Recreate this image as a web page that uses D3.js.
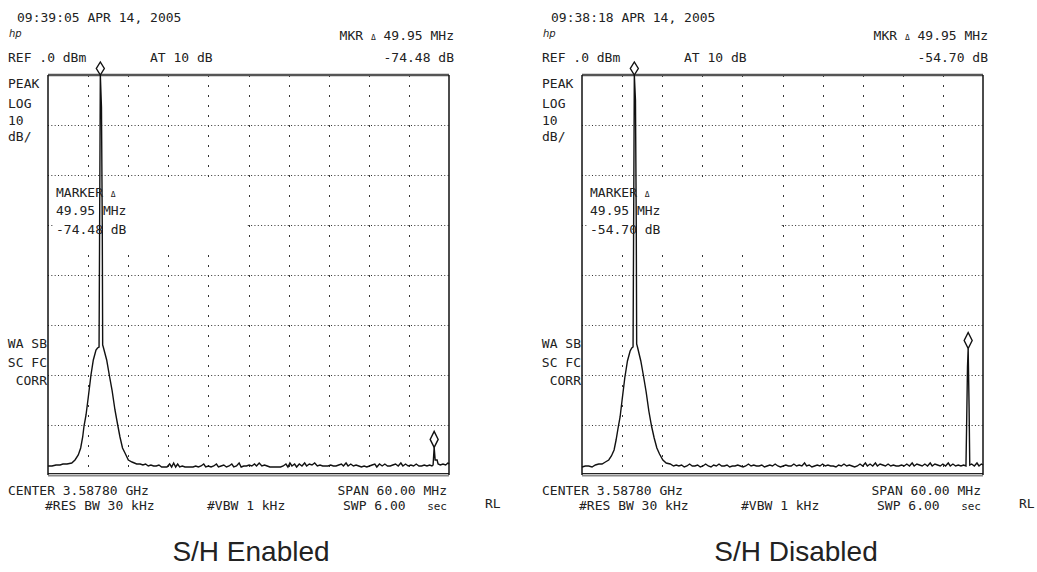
<!DOCTYPE html>
<html>
<head>
<meta charset="utf-8">
<script src="https://cdn.jsdelivr.net/npm/d3@7"></script>
<style>
  html, body { margin: 0; padding: 0; background: #fff; }
  svg { display: block; }
  .mono { font-family: "DejaVu Sans Mono", monospace; font-size: 13px; fill: #222; }
  .small { font-size: 11px; }
  .caption { font-family: "Liberation Sans", Arial, sans-serif; font-size: 28px; fill: #222; }
</style>
</head>
<body>
<svg id="chart" width="1037" height="572"></svg>
<script>
// Analyzer settings shared by both screens
const spanMHz = 60;
const refLevelDbm = 0;
const dbPerDiv = 10;
const verticalDivs = 8;
const horizontalDivs = 10;

// Reference marker on the carrier and the delta marker offset
const markerFreqMHz = -22.17;      // offset from center frequency
const markerLevelDbm = 0;
const deltaFreqMHz = 49.95;
const deltaLevelsDb = [-74.48, -54.70];

const panelCaptions = ["S/H Enabled", "S/H Disabled"];
const timeStamps = ["09:39:05 APR 14, 2005", "09:38:18 APR 14, 2005"];
const deltaTexts = ["-74.48 dB", "-54.70 dB"];
const leftAnnotations = ["PEAK", "LOG", "10", "dB/"];
const corrAnnotations = ["WA SB", "SC FC", "CORR"];
const footerLine1 = ["CENTER 3.58780 GHz", "SPAN 60.00 MHz"];
const footerLine2 = ["#RES BW 30 kHz", "#VBW 1 kHz", "SWP 6.00", "sec"];

// Trace: [MHz offset from center, dBm]
const traceEnabled = [
  [-30.00,-78.2],[-29.40,-78.2],[-28.80,-78.0],[-28.20,-78.0],[-27.76,-77.8],[-27.16,-77.8],
  [-26.45,-77.6],[-25.96,-77.0],[-25.47,-76.0],[-25.11,-74.6],[-24.81,-72.4],[-24.61,-70.2],
  [-24.31,-68.0],[-23.97,-64.4],[-23.57,-60.0],[-23.22,-57.0],[-22.82,-55.0],[-22.59,-54.6],
  [-22.36,-54.4],[markerFreqMHz, markerLevelDbm],[-22.00,-6.4],[-21.88,-30.0],[-21.82,-54.0],
  [-21.73,-54.4],[-21.22,-57.0],[-20.83,-60.0],[-20.42,-63.0],[-19.98,-67.0],[-19.57,-70.0],
  [-19.23,-72.4],[-18.85,-74.6],[-18.48,-75.6],[-17.98,-77.0],[-17.43,-77.4],[-16.73,-77.8],
  [-16.20,-77.8],[-15.80,-78.0],[-15.40,-77.8],[-15.00,-78.2],[-14.60,-78.0],[-14.20,-78.2],
  [-13.80,-78.2],[-13.40,-78.0],[-13.00,-78.4],[-12.60,-78.4],[-12.20,-78.4],[-11.80,-77.8],
  [-11.50,-78.4],[-11.20,-77.6],[-10.90,-78.4],[-10.60,-77.8],[-10.30,-78.4],[-9.90,-78.2],
  [-9.50,-78.4],[-9.10,-78.4],[-8.70,-78.4],[-8.30,-78.4],[-7.90,-78.2],[-7.50,-78.4],
  [-7.10,-78.2],[-6.70,-77.8],[-6.40,-78.4],[-6.00,-78.2],[-5.60,-78.4],[-5.20,-78.2],
  [-4.80,-77.8],[-4.50,-78.4],[-4.10,-78.2],[-3.70,-78.0],[-3.30,-78.4],[-2.90,-78.2],
  [-2.50,-77.8],[-2.20,-78.4],[-1.80,-78.2],[-1.40,-77.6],[-1.10,-78.4],[-0.70,-78.2],
  [-0.30,-78.2],[0.10,-78.0],[0.50,-78.2],[0.90,-77.8],[1.20,-78.2],[1.60,-77.6],
  [2.00,-78.2],[2.40,-78.0],[2.80,-78.2],[3.20,-78.4],[3.60,-78.4],[4.00,-78.4],
  [4.40,-78.4],[4.80,-78.4],[5.20,-78.2],[5.60,-77.8],[5.90,-78.4],[6.20,-77.6],
  [6.50,-78.2],[6.90,-77.8],[7.20,-78.4],[7.60,-77.8],[8.00,-78.2],[8.40,-77.6],
  [8.70,-78.2],[9.10,-77.8],[9.50,-78.0],[9.90,-77.6],[10.30,-78.2],[10.70,-78.0],
  [11.10,-78.2],[11.50,-78.2],[11.90,-78.2],[12.30,-78.0],[12.70,-78.2],[13.10,-78.2],
  [13.50,-78.0],[13.90,-77.8],[14.20,-78.2],[14.60,-77.6],[14.90,-78.2],[15.30,-77.8],
  [15.70,-78.2],[16.10,-78.0],[16.50,-78.2],[16.90,-78.4],[17.30,-78.2],[17.70,-78.4],
  [18.10,-78.2],[18.50,-78.0],[18.90,-77.8],[19.20,-78.4],[19.60,-77.8],[20.00,-78.2],
  [20.40,-77.8],[20.80,-78.2],[21.20,-78.2],[21.60,-78.0],[22.00,-77.8],[22.40,-78.2],
  [22.80,-77.6],[23.10,-78.2],[23.50,-77.8],[23.90,-78.2],[24.30,-78.0],[24.70,-78.2],
  [25.10,-77.8],[25.50,-78.2],[25.90,-78.2],[26.30,-78.0],[26.70,-78.2],[27.10,-78.0],
  [27.45,-78.2],[27.62,-78.0],[markerFreqMHz + deltaFreqMHz, markerLevelDbm + deltaLevelsDb[0]],
  [27.93,-77.0],[28.22,-77.0],[28.37,-77.8],[28.70,-78.0],[29.10,-77.8],[29.50,-78.0],
  [29.85,-77.6],[30.00,-77.8]
];

const traceDisabled = [
  [-30.00,-78.4],[-29.50,-78.2],[-29.00,-78.2],[-28.50,-78.4],[-28.00,-78.0],[-27.50,-77.8],
  [-27.00,-77.8],[-26.50,-77.4],[-26.00,-77.0],[-25.60,-76.2],[-25.20,-75.0],[-24.90,-73.0],
  [-24.60,-70.6],[-24.30,-68.4],[-24.00,-65.0],[-23.60,-60.6],[-23.20,-57.2],[-22.80,-55.2],
  [-22.55,-54.6],[-22.36,-54.4],[markerFreqMHz, markerLevelDbm],[-22.00,-5.0],[-21.88,-30.0],
  [-21.82,-53.8],[-21.70,-54.4],[-21.20,-57.2],[-20.80,-60.2],[-20.40,-63.4],[-20.00,-67.2],
  [-19.60,-70.2],[-19.20,-72.6],[-18.80,-74.6],[-18.40,-75.8],[-17.90,-77.0],[-17.40,-77.6],
  [-16.80,-77.8],[-16.30,-78.2],[-15.90,-78.0],[-15.50,-78.2],[-15.10,-78.0],[-14.70,-78.4],
  [-14.30,-78.2],[-13.90,-77.8],[-13.50,-78.2],[-13.10,-78.2],[-12.70,-78.0],[-12.30,-78.4],
  [-11.90,-78.2],[-11.50,-77.8],[-11.10,-78.2],[-10.70,-78.4],[-10.30,-78.0],[-9.90,-78.2],
  [-9.50,-77.8],[-9.10,-78.2],[-8.70,-78.2],[-8.30,-78.0],[-7.90,-78.4],[-7.50,-78.2],
  [-7.10,-78.2],[-6.70,-78.0],[-6.30,-78.2],[-5.90,-78.4],[-5.50,-78.2],[-5.10,-77.8],
  [-4.70,-78.2],[-4.30,-78.0],[-3.90,-78.2],[-3.50,-78.2],[-3.10,-78.0],[-2.70,-78.4],
  [-2.30,-78.2],[-1.90,-78.0],[-1.50,-78.2],[-1.10,-77.8],[-0.70,-78.2],[-0.30,-78.4],
  [0.10,-78.2],[0.50,-78.0],[0.90,-78.2],[1.30,-78.2],[1.70,-77.8],[2.10,-78.2],
  [2.50,-78.0],[2.90,-78.2],[3.30,-77.6],[3.60,-78.2],[4.00,-78.0],[4.40,-78.4],
  [4.80,-78.2],[5.20,-78.0],[5.60,-78.2],[6.00,-77.8],[6.40,-78.2],[6.80,-78.0],
  [7.20,-78.2],[7.60,-78.2],[8.00,-78.4],[8.40,-78.0],[8.80,-78.2],[9.20,-77.8],
  [9.60,-78.2],[10.00,-78.0],[10.40,-78.2],[10.80,-78.4],[11.20,-78.2],[11.60,-77.8],
  [12.00,-78.2],[12.40,-77.6],[12.70,-78.2],[13.10,-77.8],[13.50,-78.2],[13.90,-77.6],
  [14.20,-78.2],[14.60,-77.8],[15.00,-78.0],[15.40,-78.2],[15.80,-77.8],[16.20,-78.2],
  [16.60,-78.0],[17.00,-78.2],[17.40,-78.2],[17.80,-78.0],[18.20,-78.2],[18.60,-77.8],
  [19.00,-78.2],[19.40,-77.6],[19.70,-78.2],[20.10,-77.8],[20.50,-78.0],[20.90,-78.2],
  [21.30,-77.8],[21.70,-78.2],[22.10,-77.6],[22.40,-78.2],[22.80,-77.8],[23.20,-78.0],
  [23.60,-78.2],[24.00,-77.8],[24.40,-78.2],[24.80,-77.6],[25.10,-78.2],[25.50,-77.8],
  [25.90,-78.2],[26.30,-78.0],[26.70,-78.2],[27.10,-78.0],[27.45,-78.2],[27.55,-70.0],
  [27.68,-58.4],[markerFreqMHz + deltaFreqMHz, markerLevelDbm + deltaLevelsDb[1]],
  [27.92,-66.6],[28.02,-78.0],[28.30,-77.8],[28.70,-78.2],[29.10,-77.6],[29.40,-78.2],
  [29.75,-77.8],[30.00,-78.0]
];

const traces = [traceEnabled, traceDisabled];

// ---- layout ----
const panelOffsets = [0, 534];
const captionCenters = [251, 796];
const plot = { left: 48, right: 449, top: 75, bottom: 475 };

const svg = d3.select("#chart");

const x = d3.scaleLinear()
  .domain([-spanMHz / 2, spanMHz / 2])
  .range([plot.left, plot.right]);
const y = d3.scaleLinear()
  .domain([refLevelDbm - verticalDivs * dbPerDiv, refLevelDbm])
  .range([plot.bottom, plot.top]);

const line = d3.line().x(d => x(d[0])).y(d => y(d[1]));

function diamond(cx, by, w, h) {
  return `M${cx},${by} L${cx + w / 2},${by - h / 2} L${cx},${by - h} L${cx - w / 2},${by - h / 2} Z`;
}

function mono(g, text, px, py, anchor, cls) {
  return g.append("text")
    .attr("class", "mono" + (cls ? " " + cls : ""))
    .attr("x", px).attr("y", py)
    .attr("text-anchor", anchor || "start")
    .text(text);
}

traces.forEach((trace, i) => {
  const g = svg.append("g").attr("transform", `translate(${panelOffsets[i]},0)`);

  // graticule
  const vLines = d3.range(1, horizontalDivs).map(k => -spanMHz / 2 + k * spanMHz / horizontalDivs);
  const hLines = d3.range(1, verticalDivs).map(k => refLevelDbm - verticalDivs * dbPerDiv + k * dbPerDiv);

  g.selectAll(".vgrid").data(vLines).join("line")
    .attr("x1", d => Math.round(x(d)) + 0.5).attr("x2", d => Math.round(x(d)) + 0.5)
    .attr("y1", plot.top).attr("y2", plot.bottom)
    .attr("stroke", "#333").attr("stroke-width", 1)
    .attr("stroke-dasharray", "2 8").attr("stroke-dashoffset", 0);

  g.selectAll(".hgrid").data(hLines).join("line")
    .attr("x1", plot.left).attr("x2", plot.right)
    .attr("y1", d => Math.round(y(d)) + 0.5).attr("y2", d => Math.round(y(d)) + 0.5)
    .attr("stroke", "#333").attr("stroke-width", 1)
    .attr("stroke-dasharray", "1 2.33");

  // blank box behind the marker readout
  g.append("rect")
    .attr("x", plot.left + 5).attr("y", 178)
    .attr("width", 193).attr("height", 72)
    .attr("fill", "#fff");

  // frame
  g.append("line").attr("x1", plot.left).attr("x2", plot.right)
    .attr("y1", plot.top).attr("y2", plot.top)
    .attr("stroke", "#555").attr("stroke-width", 2.6);
  g.append("line").attr("x1", plot.left).attr("x2", plot.right)
    .attr("y1", plot.bottom - 1.5).attr("y2", plot.bottom - 1.5)
    .attr("stroke", "#222").attr("stroke-width", 1);
  g.append("line").attr("x1", plot.left).attr("x2", plot.right)
    .attr("y1", plot.bottom + 0.5).attr("y2", plot.bottom + 0.5)
    .attr("stroke", "#8a8a8a").attr("stroke-width", 2);
  [plot.left, plot.right].forEach(px => {
    g.append("line").attr("x1", px).attr("x2", px)
      .attr("y1", plot.top).attr("y2", plot.bottom)
      .attr("stroke", "#111").attr("stroke-width", 1.5);
  });

  // trace
  g.append("path").datum(trace)
    .attr("d", line)
    .attr("fill", "none")
    .attr("stroke", "#111")
    .attr("stroke-width", 1.4)
    .attr("stroke-linejoin", "miter");

  // markers
  const mk = [
    [markerFreqMHz, markerLevelDbm, 13],
    [markerFreqMHz + deltaFreqMHz, markerLevelDbm + deltaLevelsDb[i], 16]
  ];
  g.selectAll(".mk").data(mk).join("path")
    .attr("d", d => diamond(x(d[0]), y(d[1]), 8, d[2]))
    .attr("fill", "#fff").attr("stroke", "#111").attr("stroke-width", 1.4);

  // header text
  mono(g, timeStamps[i], 17, 22);
  g.append("text").attr("x", 9).attr("y", 37)
    .attr("font-family", "DejaVu Sans, sans-serif").attr("font-style", "italic")
    .attr("font-size", 10).attr("fill", "#222").text("hp");
  const mkr = mono(g, "", 454, 40, "end");
  mkr.append("tspan").text("MKR ");
  mkr.append("tspan").attr("font-size", 8).text("\u0394");
  mkr.append("tspan").text(" " + deltaFreqMHz.toFixed(2) + " MHz");
  mono(g, "REF .0 dBm", 8, 62);
  mono(g, "AT 10 dB", 150, 62);
  mono(g, deltaTexts[i], 454, 62, "end");

  // left side annotations
  [88, 108, 125, 141].forEach((py, k) => mono(g, leftAnnotations[k], 8, py));
  [348, 367, 385].forEach((py, k) => mono(g, corrAnnotations[k], 47, py, "end"));

  // marker readout
  const mr = mono(g, "", 56, 197);
  mr.append("tspan").text("MARKER ");
  mr.append("tspan").attr("font-size", 8).text("\u0394");
  mono(g, deltaFreqMHz.toFixed(2) + " MHz", 56, 215);
  mono(g, deltaTexts[i], 56, 234);

  // footer
  mono(g, footerLine1[0], 8, 495);
  mono(g, footerLine1[1], 447, 495, "end");
  mono(g, footerLine2[0], 45, 510);
  mono(g, footerLine2[1], 207, 510);
  mono(g, footerLine2[2], 343, 510);
  mono(g, footerLine2[3], 447, 510, "end", "small");
  mono(g, "RL", 485, 508);

  svg.append("text").attr("class", "caption")
    .attr("x", captionCenters[i]).attr("y", 561)
    .attr("text-anchor", "middle")
    .text(panelCaptions[i]);
});
</script>
</body>
</html>
